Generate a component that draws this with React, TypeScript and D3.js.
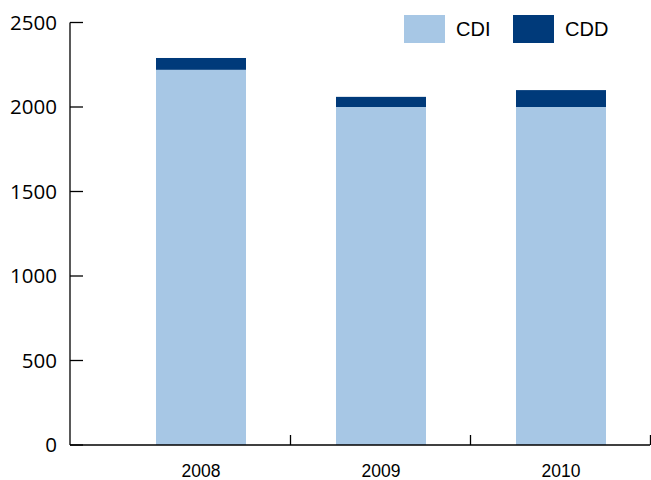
import React from "react";
import * as d3 from "d3";

const years = ["2008", "2009", "2010"];
const cdiValues = [2220, 2000, 2000];
const cddValues = [70, 60, 100];
const yTicks = [0, 500, 1000, 1500, 2000, 2500];
const seriesNames = ["CDI", "CDD"];
const seriesColors = ["#a7c7e5", "#003a7a"];

export default function App() {
  const width = 651;
  const height = 480;
  const axisX = 70;
  const axisEnd = 650;
  const y = d3.scaleLinear().domain([0, 2500]).range([445, 22.5]);
  const x = d3.scaleBand<string>().domain(years).range([111, 651]).paddingInner(0.5).paddingOuter(0.25);
  const data = years.map((yr, i) => ({ year: yr, CDI: cdiValues[i], CDD: cddValues[i] }));
  const stack = d3.stack<any>().keys(seriesNames)(data);

  return (
    <svg width={width} height={height} style={{ position: "absolute", left: 0, top: 0, background: "#fff" }}>
      {stack.map((layer, li) => (
        <g key={layer.key} fill={seriesColors[li]}>
          {layer.map((d, i) => (
            <rect key={i} x={x(years[i])} width={x.bandwidth()} y={y(d[1])} height={y(d[0]) - y(d[1])} />
          ))}
        </g>
      ))}
      {/* y axis */}
      <line x1={axisX} x2={axisX} y1={y(2500)} y2={y(0)} stroke="#000" strokeWidth={1.3} />
      {yTicks.map((t) => (
        <g key={t}>
          <line x1={axisX} x2={axisX + 13} y1={y(t)} y2={y(t)} stroke="#000" strokeWidth={1.3} />
          <text x={57} y={y(t)} dy="0.36em" textAnchor="end" fontFamily="'Open Sans'" fontSize={20.5} fill="#000">
            {t}
          </text>
        </g>
      ))}
      {/* x axis */}
      <line x1={axisX} x2={axisEnd} y1={y(0)} y2={y(0)} stroke="#000" strokeWidth={1.3} />
      {years.map((yr, i) => {
        const right = (x(yr) as number) + x.bandwidth() + x.step() * 0.25 + 0.5;
        return (
          <g key={yr}>
            <line x1={right - 1} x2={right - 1} y1={y(0)} y2={y(0) - 10} stroke="#000" strokeWidth={1.3} />
            <text x={(x(yr) as number) + x.bandwidth() / 2} y={477} textAnchor="middle" fontFamily="'Liberation Sans', Arial" fontSize={17.5} fill="#000">
              {yr}
            </text>
          </g>
        );
      })}
      {/* legend */}
      {seriesNames.map((name, i) => {
        const lx = [404, 513][i];
        return (
          <g key={name}>
            <rect x={lx} y={15} width={41} height={28} fill={seriesColors[i]} />
            <text x={lx + 52} y={36} fontFamily="'Liberation Sans', Arial" fontSize={20} fill="#000">
              {name}
            </text>
          </g>
        );
      })}
    </svg>
  );
}
